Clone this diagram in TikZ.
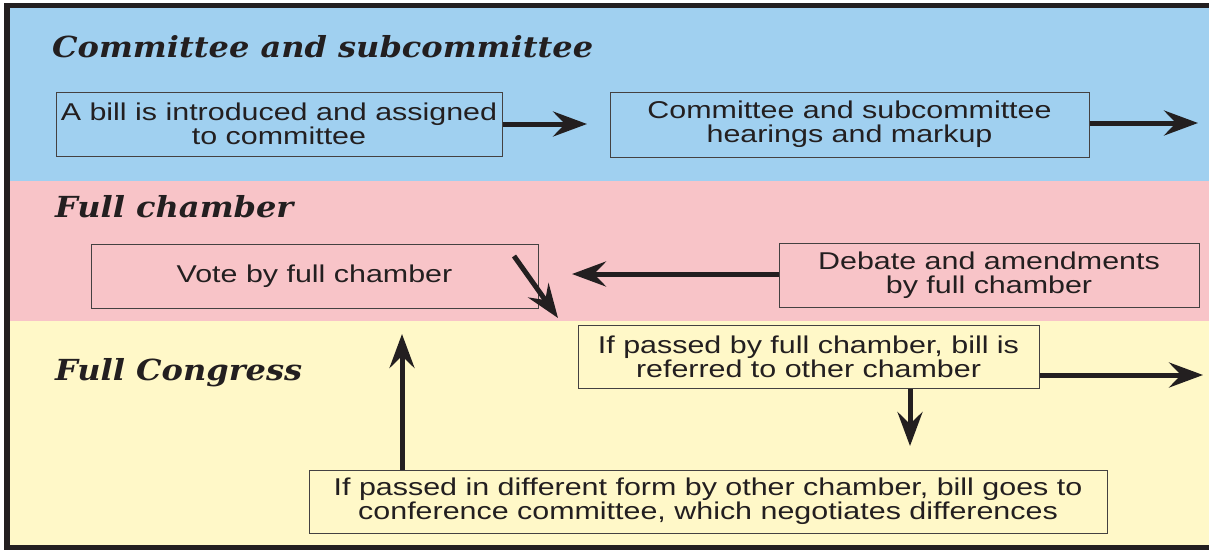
\documentclass[tikz,border=0pt]{standalone}
\usepackage{fontspec}
\setmainfont{Liberation Sans}
\newfontfamily\boxfont[FakeStretch=1.252]{Liberation Sans}
\newfontfamily\titlefont[FakeStretch=1.105]{DejaVu Serif}
\usetikzlibrary{arrows.meta}
\definecolor{bandblue}{RGB}{160,208,240}
\definecolor{bandpink}{RGB}{248,196,200}
\definecolor{bandyellow}{RGB}{255,248,200}
\definecolor{ink}{RGB}{35,31,32}
\tikzset{
  stepbox/.style={draw=ink!85, line width=1pt, align=center, inner sep=0pt,
    font=\boxfont\fontsize{24.3}{24.3}\selectfont, text=ink},
  bandtitle/.style={anchor=base west, inner sep=0pt, text=ink,
    font=\titlefont\fontsize{29}{30}\selectfont\bfseries\itshape},
  arr/.style={draw=ink, line width=5pt,
    -{Stealth[length=34pt, width=25pt, inset=12pt]}}
}
\begin{document}
\begin{tikzpicture}[x=1pt, y=-1pt]
\useasboundingbox (0,0) rectangle (1209,550);
% bands
\fill[bandblue] (10,8) rectangle (1209,181);
\fill[bandpink] (10,181) rectangle (1209,321);
\fill[bandyellow] (10,321) rectangle (1209,545);
% frame
\fill[ink] (4,3) rectangle (10,550);
\fill[ink] (4,3) rectangle (1209,8);
\fill[ink] (4,545) rectangle (1209,550);
% titles
\node[bandtitle] (t1) at (52,57) {Committee and subcommittee};
\node[bandtitle] (t2) at (55,217) {Full chamber};
\node[bandtitle] (t3) at (55,380) {Full Congress};
% boxes
\node[stepbox, minimum width=446pt, minimum height=64pt] (b1) at (279,124)
  {A bill is introduced and assigned\\to committee};
\node[stepbox, minimum width=479pt, minimum height=65pt] (b2) at (849.5,124.5)
  {Committee and subcommittee\\hearings and markup};
\node[stepbox, minimum width=447pt, minimum height=64pt] (b3) at (314.5,276.5)
  {Vote by full chamber};
\node[stepbox, minimum width=420pt, minimum height=64pt] (b4) at (989,275)
  {Debate and amendments\\by full chamber};
\node[stepbox, minimum width=461pt, minimum height=63pt] (b5) at (808.5,356.5)
  {If passed by full chamber, bill is\\referred to other chamber};
\node[stepbox, minimum width=798pt, minimum height=63pt] (b6) at (708,501.5)
  {If passed in different form by other chamber, bill goes to\\conference committee, which negotiates differences};
% arrow end points
\coordinate (e1) at (587,124);
\coordinate (e2) at (1198,123);
\coordinate (e4) at (572,274);
\coordinate (d0) at (514,256);
\coordinate (d1) at (558,318);
\coordinate (e5r) at (1203,375);
\coordinate (e5d) at (910,446);
\coordinate (e6) at (402,334);
% connectors
\draw[arr] (b1.east |- e1) -- (e1);
\draw[arr] (b2.east |- e2) -- (e2);
\draw[arr] (b4.west |- e4) -- (e4);
\draw[arr] (d0) -- (d1);
\draw[arr] (b5.east |- e5r) -- (e5r);
\draw[arr] (b5.south -| e5d) -- (e5d);
\draw[arr] (b6.north -| e6) -- (e6);
\end{tikzpicture}
\end{document}
